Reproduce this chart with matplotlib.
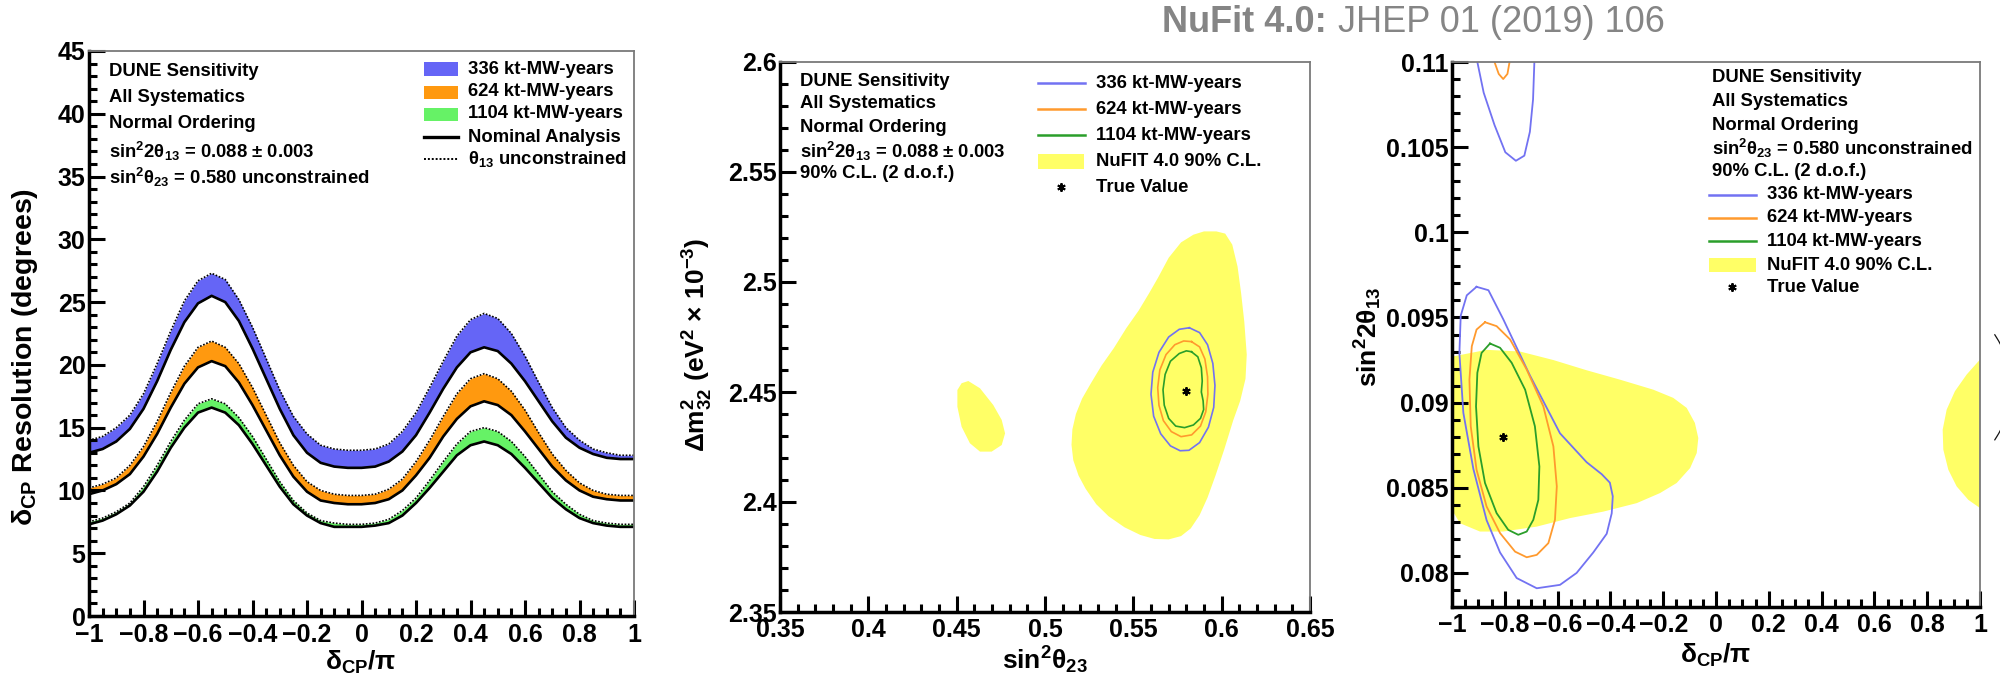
import matplotlib as mpl
mpl.use('Agg')
import matplotlib.pyplot as plt
from matplotlib.lines import Line2D
from matplotlib.patches import Rectangle, Polygon
from matplotlib.ticker import MultipleLocator, FuncFormatter

# ---------------- panel 1: delta_CP resolution ----------------
dcp = [-1.00, -0.95, -0.90, -0.85, -0.80, -0.75, -0.70, -0.65, -0.60, -0.55,
       -0.50, -0.45, -0.40, -0.35, -0.30, -0.25, -0.20, -0.15, -0.10, -0.05,
       0.00, 0.05, 0.10, 0.15, 0.20, 0.25, 0.30, 0.35, 0.40, 0.45,
       0.50, 0.55, 0.60, 0.65, 0.70, 0.75, 0.80, 0.85, 0.90, 0.95, 1.00]

res_336_nom = [13.0, 13.3, 13.9, 14.9, 16.5, 18.7, 21.2, 23.4, 24.9, 25.5,
               25.0, 23.5, 21.3, 18.9, 16.5, 14.4, 13.0, 12.2, 11.9, 11.8,
               11.8, 11.9, 12.3, 13.1, 14.4, 16.2, 18.1, 19.8, 21.0, 21.4,
               21.1, 20.1, 18.7, 17.1, 15.5, 14.2, 13.4, 12.9, 12.6, 12.5, 12.5]
res_336_free = [14.0, 14.3, 15.0, 16.0, 17.7, 20.1, 22.7, 25.1, 26.7, 27.3,
                26.8, 25.2, 23.0, 20.5, 18.0, 15.9, 14.5, 13.6, 13.3, 13.2,
                13.2, 13.3, 13.7, 14.7, 16.2, 18.2, 20.3, 22.3, 23.6, 24.1,
                23.7, 22.5, 20.7, 18.6, 16.6, 15.0, 14.0, 13.3, 13.0, 12.8, 12.8]
res_624_nom = [9.7, 10.0, 10.5, 11.3, 12.7, 14.5, 16.6, 18.5, 19.8, 20.3,
               19.9, 18.6, 16.8, 14.8, 12.8, 11.1, 9.9, 9.2, 9.0, 8.9,
               8.9, 9.0, 9.3, 10.0, 11.2, 12.6, 14.3, 15.7, 16.7, 17.1,
               16.8, 16.0, 14.7, 13.3, 11.9, 10.8, 10.0, 9.5, 9.3, 9.2, 9.2]
res_624_free = [10.2, 10.5, 11.0, 12.0, 13.5, 15.5, 17.8, 19.9, 21.4, 21.9,
                21.4, 20.1, 18.2, 16.0, 13.8, 12.0, 10.7, 10.0, 9.7, 9.6,
                9.6, 9.7, 10.1, 10.9, 12.3, 14.0, 15.9, 17.7, 18.9, 19.3,
                18.9, 17.9, 16.4, 14.6, 12.9, 11.6, 10.6, 10.0, 9.7, 9.6, 9.6]
res_1104_nom = [7.3, 7.6, 8.1, 8.8, 9.9, 11.5, 13.4, 15.0, 16.2, 16.6,
                16.2, 15.2, 13.7, 12.0, 10.3, 8.9, 8.0, 7.4, 7.1, 7.1,
                7.1, 7.2, 7.4, 8.0, 9.0, 10.2, 11.5, 12.8, 13.6, 13.9,
                13.6, 12.9, 11.8, 10.6, 9.4, 8.5, 7.8, 7.4, 7.2, 7.1, 7.1]
res_1104_free = [7.5, 7.8, 8.3, 9.0, 10.3, 12.0, 13.9, 15.6, 16.9, 17.3,
                 16.9, 15.8, 14.3, 12.5, 10.7, 9.2, 8.2, 7.6, 7.4, 7.3,
                 7.3, 7.4, 7.7, 8.4, 9.4, 10.8, 12.3, 13.7, 14.7, 15.0,
                 14.7, 13.9, 12.7, 11.3, 9.9, 8.9, 8.1, 7.6, 7.4, 7.3, 7.3]

exposures = ['336 kt-MW-years', '624 kt-MW-years', '1104 kt-MW-years']

# ---------------- panel 2: dm32 vs sin2 theta23 ----------------
nufit_a_s23 = [0.597, 0.602, 0.606, 0.609, 0.611, 0.6128, 0.6142, 0.6135, 0.6105, 0.6065,
               0.6015, 0.5965, 0.592, 0.5875, 0.5825, 0.577, 0.570, 0.562, 0.554, 0.545,
               0.536, 0.529, 0.523, 0.519, 0.516, 0.515, 0.5155, 0.5175, 0.521, 0.526,
               0.532, 0.539, 0.546, 0.553, 0.559, 0.564, 0.570, 0.577, 0.584, 0.590]
nufit_a_dm = [2.523, 2.522, 2.517, 2.507, 2.495, 2.482, 2.467, 2.456, 2.446, 2.437,
              2.424, 2.412, 2.402, 2.394, 2.388, 2.3845, 2.383, 2.3832, 2.385, 2.3885,
              2.3935, 2.399, 2.406, 2.412, 2.419, 2.426, 2.433, 2.440, 2.447, 2.454,
              2.462, 2.470, 2.479, 2.487, 2.495, 2.502, 2.511, 2.518, 2.5215, 2.523]
nufit_b_s23 = [0.4566, 0.4632, 0.4707, 0.4755, 0.4774, 0.4755, 0.4698, 0.4632, 0.4575,
               0.4528, 0.4504, 0.4504, 0.4528]
nufit_b_dm = [2.455, 2.4517, 2.4441, 2.4373, 2.4312, 2.4259, 2.4229, 2.4229, 2.4267,
              2.4342, 2.4433, 2.4509, 2.4540]

c336_s23 = [0.5817, 0.5875, 0.5920, 0.5950, 0.5962, 0.5955, 0.5925, 0.5875, 0.5815,
            0.5765, 0.5710, 0.5655, 0.5615, 0.5600, 0.5610, 0.5645, 0.5700, 0.5760]
c336_dm = [2.4792, 2.4770, 2.4715, 2.4630, 2.4530, 2.4430, 2.4340, 2.4270, 2.4235,
           2.4233, 2.4255, 2.4310, 2.4390, 2.4490, 2.4590, 2.4680, 2.4750, 2.4785]
c624_s23 = [0.5829, 0.5875, 0.5905, 0.5920, 0.5922, 0.5910, 0.5880, 0.5830, 0.5770,
            0.5715, 0.5670, 0.5645, 0.5638, 0.5650, 0.5685, 0.5735, 0.5785]
c624_dm = [2.4729, 2.4705, 2.4650, 2.4570, 2.4490, 2.4410, 2.4345, 2.4305, 2.4297,
           2.4320, 2.4370, 2.4440, 2.4520, 2.4600, 2.4670, 2.4715, 2.4732]
c1104_s23 = [0.5829, 0.5865, 0.5885, 0.5890, 0.5885, 0.5895, 0.5898, 0.5880, 0.5840,
             0.5790, 0.5740, 0.5700, 0.5675, 0.5668, 0.5680, 0.5710, 0.5760, 0.5800]
c1104_dm = [2.4683, 2.4660, 2.4610, 2.4550, 2.4500, 2.4460, 2.4420, 2.4380, 2.4350,
            2.4338, 2.4345, 2.4380, 2.4440, 2.4510, 2.4580, 2.4640, 2.4675, 2.4687]
true_s23, true_dm = 0.580, 2.4506

# ---------------- panel 3: sin2 2theta13 vs delta_CP/pi ----------------
nufit_l_dcp = [-1.02, -1.0, -0.869, -0.742, -0.616, -0.490, -0.364, -0.2375, -0.162,
               -0.111, -0.080, -0.067, -0.073, -0.098, -0.149, -0.212, -0.300, -0.427,
               -0.553, -0.679, -0.806, -0.894, -0.970, -1.0, -1.02]
nufit_l_s13 = [0.0927, 0.0927, 0.0931, 0.0930, 0.0925, 0.0919, 0.09135, 0.09076, 0.09028,
               0.08969, 0.08881, 0.08792, 0.08704, 0.08616, 0.08528, 0.08469, 0.0841, 0.0836,
               0.08322, 0.08272, 0.08243, 0.08243, 0.08292, 0.0837, 0.0837]
nufit_r_dcp = [1.02, 1.0, 0.9495, 0.905, 0.8737, 0.8586, 0.861, 0.880, 0.9116, 0.9558, 1.0, 1.02]
nufit_r_s13 = [0.09253, 0.09253, 0.09165, 0.09067, 0.08959, 0.08841, 0.08724, 0.08606,
               0.08508, 0.08429, 0.08381, 0.08381]

b336_dcp = [-0.907, -0.862, -0.806, -0.705, -0.591, -0.490, -0.433, -0.402, -0.391, -0.395,
            -0.414, -0.465, -0.528, -0.591, -0.679, -0.755, -0.818, -0.869, -0.919, -0.957,
            -0.972, -0.967, -0.944]
b336_s13 = [0.0968, 0.0966, 0.0949, 0.0916, 0.0882, 0.0865, 0.0858, 0.0853, 0.0845, 0.0835,
            0.0823, 0.0812, 0.0800, 0.0793, 0.0791, 0.0797, 0.0812, 0.0831, 0.0861, 0.0894,
            0.0929, 0.0951, 0.0963]
b624_dcp = [-0.875, -0.831, -0.780, -0.717, -0.654, -0.616, -0.603, -0.610, -0.635, -0.679,
            -0.717, -0.761, -0.818, -0.869, -0.907, -0.929, -0.934, -0.925, -0.907]
b624_s13 = [0.09472, 0.09449, 0.09371, 0.09194, 0.08978, 0.08743, 0.08508, 0.08312, 0.08175,
            0.08106, 0.08092, 0.08125, 0.08234, 0.0839, 0.08606, 0.08861, 0.09135, 0.09331,
            0.09429]
b1104_dcp = [-0.856, -0.818, -0.774, -0.723, -0.686, -0.669, -0.673, -0.692, -0.717, -0.749,
             -0.787, -0.831, -0.875, -0.900, -0.909, -0.904, -0.888]
b1104_s13 = [0.09347, 0.09322, 0.09234, 0.09076, 0.08861, 0.08625, 0.08429, 0.08312, 0.08243,
             0.08224, 0.08253, 0.08351, 0.08528, 0.08743, 0.08978, 0.09175, 0.09292]
u336_dcp = [-0.910, -0.904, -0.880, -0.839, -0.798, -0.758, -0.726, -0.705, -0.693, -0.688, -0.687]
u336_s13 = [0.1110, 0.1100, 0.1082, 0.1063, 0.1047, 0.1042, 0.1045, 0.1059, 0.1078, 0.1100, 0.1110]
u624_dcp = [-0.842, -0.839, -0.823, -0.806, -0.790, -0.782, -0.781]
u624_s13 = [0.1105, 0.1100, 0.1093, 0.1090, 0.1093, 0.1100, 0.1105]
true_dcp, true_s13 = -0.808, 0.0880

# ---------------- style ----------------
W, H = 2000, 677
plt.rcParams['font.family'] = ['Liberation Sans', 'DejaVu Sans']
plt.rcParams['font.weight'] = 'bold'
plt.rcParams['mathtext.fontset'] = 'custom'
plt.rcParams['mathtext.rm'] = 'Liberation Sans:bold'
plt.rcParams['mathtext.it'] = 'Liberation Sans:bold'
plt.rcParams['mathtext.bf'] = 'Liberation Sans:bold'
plt.rcParams['mathtext.sf'] = 'Liberation Sans:bold'
plt.rcParams['mathtext.default'] = 'rm'

BLUE, ORANGE, GREEN = '#6565f6', '#ff990f', '#66f266'
LBLUE, LORANGE, LGREEN = '#7272f2', '#ff9a2e', '#2a9e2a'
YELLOW = '#ffff66'
TXT = 13.3
TICK = 18
TITLE = 19

fig = plt.figure(figsize=(W / 100, H / 100), dpi=100)


def box(x0, y0, x1, y1):
    return [x0 / W, 1 - y1 / H, (x1 - x0) / W, (y1 - y0) / H]


def ftext(x, y, s, **kw):
    kw.setdefault('va', 'center')
    kw.setdefault('fontsize', TXT)
    return fig.text(x / W, 1 - y / H, s, **kw)


def swatch(x0, x1, y, h, color):
    fig.add_artist(Rectangle((x0 / W, 1 - (y + h / 2) / H), (x1 - x0) / W, h / H,
                             transform=fig.transFigure, facecolor=color, edgecolor='none'))


def stroke(x0, x1, y, **kw):
    fig.add_artist(Line2D([x0 / W, x1 / W], [1 - y / H, 1 - y / H],
                          transform=fig.transFigure, **kw))


def star(x, y):
    fig.add_artist(Line2D([x / W], [1 - y / H], transform=fig.transFigure, ls='none',
                          marker=(6, 2, 0), ms=6, mew=1.4, color='black'))


def fmt(v, pos):
    v = round(v, 6)
    if v == 0:
        v = 0.0
    return ('%g' % v).replace('-', '\u2212')


def style(ax, xlim, ylim, xmaj, xmin, ymaj, ymin, xpad):
    ax.set_xlim(*xlim)
    ax.set_ylim(*ylim)
    ax.xaxis.set_major_locator(MultipleLocator(xmaj))
    ax.xaxis.set_minor_locator(MultipleLocator(xmin))
    ax.yaxis.set_major_locator(MultipleLocator(ymaj))
    ax.yaxis.set_minor_locator(MultipleLocator(ymin))
    ax.xaxis.set_major_formatter(FuncFormatter(fmt))
    ax.yaxis.set_major_formatter(FuncFormatter(fmt))
    ax.tick_params(which='both', direction='in', top=False, right=False,
                   width=2.2, labelsize=TICK)
    ax.tick_params(which='major', length=11.5)
    ax.tick_params(which='minor', length=5.5)
    ax.tick_params(axis='x', pad=xpad)
    ax.tick_params(axis='y', pad=2.5)
    for s in ('left', 'bottom'):
        ax.spines[s].set_linewidth(2.5)
    for s in ('top', 'right'):
        ax.spines[s].set_linewidth(1.3)
        ax.spines[s].set_color('#7a7a7a')


# ---------------- panel 1 ----------------
ax1 = fig.add_axes(box(89, 51, 634, 616))
bands = [(res_336_nom, res_336_free, BLUE), (res_624_nom, res_624_free, ORANGE),
         (res_1104_nom, res_1104_free, GREEN)]
for nom, free, col in bands:
    ax1.fill_between(dcp, nom, free, color=col, lw=0)
    ax1.plot(dcp, nom, color='black', lw=1.9)
    ax1.plot(dcp, free, color='black', lw=1.2, ls=(0, (1, 1)))
style(ax1, (-1, 1), (0, 45), 0.2, 0.05, 5, 1, 5)

for y, s in zip([71, 97, 124, 151, 177],
                ['DUNE Sensitivity', 'All Systematics', 'Normal Ordering',
                 r'sin$^{2}$2$\theta_{13}$ = 0.088 $\pm$ 0.003',
                 r'sin$^{2}\theta_{23}$ = 0.580 unconstrained']):
    ftext(109, y, s)
for y, s, col in zip([69, 92, 114], exposures, [BLUE, ORANGE, GREEN]):
    swatch(424, 458, y, 13, col)
    ftext(468, y, s)
stroke(424, 458, 137, color='black', lw=2.4)
ftext(468, 137, 'Nominal Analysis')
stroke(424, 458, 159, color='black', lw=1.4, ls=(0, (1, 1)))
ftext(468, 159, r'$\theta_{13}$ unconstrained')
ftext(25, 357, r'$\delta_{CP}$ Resolution (degrees)', fontsize=20.5, rotation=90, ha='center')
ftext(361, 662, r'$\delta_{CP}/\pi$', fontsize=TITLE, ha='center')

# ---------------- panel 2 ----------------
ax2 = fig.add_axes(box(780, 62, 1310, 612))
ax2.add_patch(Polygon(list(zip(nufit_a_s23, nufit_a_dm)), closed=True, fc=YELLOW, ec='none'))
ax2.add_patch(Polygon(list(zip(nufit_b_s23, nufit_b_dm)), closed=True, fc=YELLOW, ec='none'))
for xs, ys, col in [(c336_s23, c336_dm, LBLUE), (c624_s23, c624_dm, LORANGE),
                    (c1104_s23, c1104_dm, LGREEN)]:
    ax2.plot(xs + xs[:1], ys + ys[:1], color=col, lw=1.2)
ax2.plot([true_s23], [true_dm], ls='none', marker=(6, 2, 0), ms=6, mew=1.4, color='black')
style(ax2, (0.35, 0.65), (2.35, 2.6), 0.05, 0.01, 0.05, 0.01, 4)

for y, s in zip([82, 104, 128, 151, 174],
                ['DUNE Sensitivity', 'All Systematics', 'Normal Ordering',
                 r'sin$^{2}$2$\theta_{13}$ = 0.088 $\pm$ 0.003', '90% C.L. (2 d.o.f.)']):
    ftext(800, y, s)
for y, s, col in zip([83, 109, 135], exposures, [LBLUE, LORANGE, LGREEN]):
    stroke(1038, 1085, y, color=col, lw=1.8)
    ftext(1096, y, s)
swatch(1038, 1084, 161, 15, YELLOW)
ftext(1096, 161, 'NuFIT 4.0 90% C.L.')
star(1061, 187)
ftext(1096, 187, 'True Value')
ftext(698, 345, r'$\Delta m^{2}_{32}$ (eV$^{2}$ $\times$ 10$^{-3}$)', fontsize=TITLE,
      rotation=90, ha='center')
ftext(1045, 660, r'sin$^{2}\theta_{23}$', fontsize=TITLE, ha='center')

# ---------------- panel 3 ----------------
ax3 = fig.add_axes(box(1452, 62, 1980, 607))
ax3.add_patch(Polygon(list(zip(nufit_l_dcp, nufit_l_s13)), closed=True, fc=YELLOW, ec='none'))
ax3.add_patch(Polygon(list(zip(nufit_r_dcp, nufit_r_s13)), closed=True, fc=YELLOW, ec='none'))
for xs, ys, col in [(b336_dcp, b336_s13, LBLUE), (b624_dcp, b624_s13, LORANGE),
                    (b1104_dcp, b1104_s13, LGREEN)]:
    ax3.plot(xs + xs[:1], ys + ys[:1], color=col, lw=1.3)
ax3.plot(u336_dcp, u336_s13, color=LBLUE, lw=1.3)
ax3.plot(u624_dcp, u624_s13, color=LORANGE, lw=1.3)
ax3.plot([true_dcp], [true_s13], ls='none', marker=(6, 2, 0), ms=6, mew=1.4, color='black')
style(ax3, (-1, 1), (0.078, 0.11), 0.2, 0.05, 0.005, 0.001, 4)

for y, s in zip([78, 101, 125, 148, 171],
                ['DUNE Sensitivity', 'All Systematics', 'Normal Ordering',
                 r'sin$^{2}\theta_{23}$ = 0.580 unconstrained', '90% C.L. (2 d.o.f.)']):
    ftext(1712, y, s)
for y, s, col in zip([195, 218, 241], exposures, [LBLUE, LORANGE, LGREEN]):
    stroke(1709, 1756, y, color=col, lw=1.8)
    ftext(1767, y, s)
swatch(1709, 1756, 265, 14, YELLOW)
ftext(1767, 265, 'NuFIT 4.0 90% C.L.')
star(1732, 287)
ftext(1767, 287, 'True Value')
ftext(1368, 337, r'sin$^{2}$2$\theta_{13}$', fontsize=TITLE, rotation=90, ha='center')
ftext(1716, 655, r'$\delta_{CP}/\pi$', fontsize=TITLE, ha='center')

# ---------------- header ----------------
head = ftext(1162, 23, 'NuFit 4.0:', fontsize=26, color='#858585', fontweight='bold')
fig.canvas.draw()
bb = head.get_window_extent()
ftext(bb.x1 + 11, 23, 'JHEP 01 (2019) 106', fontsize=26, color='#858585',
      fontweight='normal')
# edge of a neighbouring panel title, cut by the frame
ftext(1989, 392, ')', fontsize=88, fontweight='light', color='#111111',
      family=['Lato', 'DejaVu Sans'])

fig.savefig('out.png', dpi=100)
